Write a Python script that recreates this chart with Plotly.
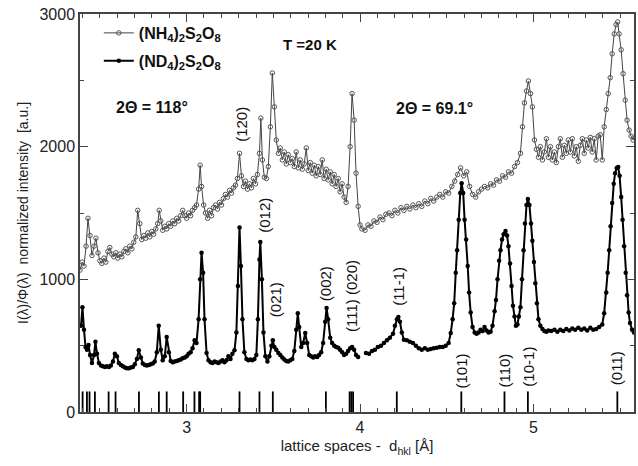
import plotly.graph_objects as go

# ---------------- data ----------------
# (NH4)2S2O8 : lattice spacing d [A] and intensity
nh4_d = [2.385, 2.397, 2.408, 2.420, 2.431, 2.443, 2.454, 2.466, 2.477, 2.489, 2.500, 2.511,
         2.523, 2.534, 2.546, 2.557, 2.569, 2.580, 2.592, 2.603, 2.615, 2.626, 2.638, 2.649,
         2.661, 2.672, 2.684, 2.695, 2.707, 2.718, 2.730, 2.741, 2.753, 2.764, 2.776, 2.787,
         2.799, 2.810, 2.822, 2.833, 2.842, 2.851, 2.862, 2.874, 2.885, 2.897, 2.908, 2.920,
         2.931, 2.943, 2.954, 2.966, 2.977, 2.989, 3.000, 3.011, 3.023, 3.034, 3.046, 3.057,
         3.069, 3.078, 3.086, 3.098, 3.109, 3.121, 3.132, 3.144, 3.155, 3.167, 3.178, 3.190,
         3.201, 3.213, 3.224, 3.236, 3.247, 3.259, 3.270, 3.282, 3.293, 3.305, 3.316, 3.328,
         3.339, 3.351, 3.362, 3.374, 3.385, 3.397, 3.408, 3.420, 3.428, 3.437, 3.448, 3.460,
         3.471, 3.483, 3.494, 3.506, 3.517, 3.529, 3.540, 3.552, 3.563, 3.575, 3.586, 3.598,
         3.609, 3.621, 3.632, 3.644, 3.655, 3.667, 3.678, 3.690, 3.701, 3.713, 3.724, 3.736,
         3.747, 3.759, 3.770, 3.782, 3.793, 3.805, 3.816, 3.828, 3.839, 3.851, 3.862, 3.874,
         3.885, 3.897, 3.908, 3.920, 3.931, 3.943, 3.954, 3.966, 3.977, 3.989, 4.000, 4.011,
         4.029, 4.046, 4.063, 4.080, 4.098, 4.115, 4.132, 4.149, 4.167, 4.184, 4.201, 4.218,
         4.236, 4.253, 4.270, 4.287, 4.305, 4.322, 4.339, 4.356, 4.374, 4.391, 4.408, 4.425,
         4.443, 4.460, 4.477, 4.494, 4.511, 4.529, 4.546, 4.563, 4.580, 4.598, 4.615, 4.632,
         4.649, 4.667, 4.684, 4.701, 4.718, 4.736, 4.753, 4.770, 4.787, 4.805, 4.822, 4.839,
         4.856, 4.874, 4.891, 4.908, 4.925, 4.937, 4.948, 4.960, 4.971, 4.983, 4.994, 5.006,
         5.017, 5.029, 5.040, 5.052, 5.063, 5.075, 5.086, 5.098, 5.109, 5.121, 5.132, 5.144,
         5.155, 5.167, 5.178, 5.190, 5.201, 5.213, 5.224, 5.236, 5.247, 5.259, 5.270, 5.282,
         5.293, 5.305, 5.316, 5.328, 5.339, 5.351, 5.362, 5.374, 5.385, 5.397, 5.408, 5.420,
         5.431, 5.443, 5.454, 5.466, 5.477, 5.486, 5.494, 5.506, 5.517, 5.529, 5.540, 5.552,
         5.563, 5.575, 5.586]
nh4_I = [1070, 1130, 1100, 1250, 1460, 1330, 1180, 1250, 1310, 1200, 1140, 1120,
         1160, 1130, 1210, 1240, 1190, 1170, 1200, 1160, 1190, 1170, 1210, 1230,
         1200, 1250, 1230, 1280, 1320, 1520, 1420, 1300, 1330, 1310, 1350, 1320,
         1360, 1340, 1380, 1420, 1520, 1440, 1370, 1400, 1380, 1420, 1400, 1440,
         1420, 1460, 1440, 1480, 1520, 1480, 1460, 1500, 1480, 1520, 1540, 1560,
         1680, 1860, 1700, 1560, 1500, 1460, 1520, 1480, 1540, 1560, 1530, 1580,
         1560, 1610, 1640, 1620, 1670, 1650, 1690, 1710, 1760, 1950, 1780, 1700,
         1740, 1680, 1720, 1690, 1760, 1720, 1790, 1950, 2215, 1900, 1770, 1760,
         1850, 2150, 2555, 2300, 2050, 1950, 1990, 1900, 1960, 1870, 1940, 1880,
         1910, 1850, 1960, 1840, 1900, 1830, 1870, 1990, 1820, 1880, 1800, 1860,
         1780, 1850, 1790, 1900, 1760, 1830, 1750, 1810, 1720, 1790, 1700, 1760,
         1660, 1720, 1620, 1580, 1700, 2000, 2400, 2200, 1800, 1550, 1410, 1380,
         1370, 1410, 1400, 1440, 1430, 1470, 1450, 1490, 1500, 1480, 1520, 1500,
         1540, 1520, 1550, 1530, 1560, 1540, 1570, 1550, 1590, 1570, 1610, 1590,
         1620, 1640, 1620, 1660, 1650, 1700, 1740, 1790, 1840, 1780, 1810, 1700,
         1640, 1620, 1660, 1680, 1700, 1690, 1720, 1710, 1750, 1740, 1780, 1770,
         1810, 1800, 1850, 1880, 1950, 2150, 2330, 2420, 2495, 2400, 2300, 2050,
         1980, 1920, 2000, 1900, 1960, 2060, 1920, 2000, 1900, 1960, 1880, 2000,
         2060, 1920, 2010, 1950, 2050, 1960, 2060, 1930, 2000, 1890, 2010, 2060,
         1950, 2050, 1990, 2070, 1960, 2060, 1900, 2080, 2090, 1900, 2150, 2280,
         2400, 2520, 2700, 2850, 2920, 2940, 2850, 2730, 2550, 2350, 2200, 2125,
         2080, 2050, 2070]

# (ND4)2S2O8 : two measurement ranges (2Theta = 118 deg and 69.1 deg)
nd4_d_low = [2.391, 2.399, 2.408, 2.417, 2.425, 2.434, 2.443, 2.454, 2.466, 2.474, 2.483, 2.494,
             2.506, 2.517, 2.529, 2.540, 2.552, 2.563, 2.575, 2.586, 2.598, 2.609, 2.621, 2.632,
             2.644, 2.655, 2.667, 2.678, 2.690, 2.701, 2.713, 2.724, 2.736, 2.747, 2.759, 2.770,
             2.782, 2.793, 2.805, 2.816, 2.828, 2.839, 2.851, 2.862, 2.874, 2.885, 2.897, 2.908,
             2.920, 2.931, 2.943, 2.954, 2.966, 2.977, 2.989, 3.000, 3.011, 3.023, 3.034, 3.046,
             3.057, 3.069, 3.078, 3.086, 3.095, 3.103, 3.115, 3.126, 3.138, 3.149, 3.161, 3.172,
             3.184, 3.195, 3.207, 3.218, 3.230, 3.241, 3.253, 3.264, 3.276, 3.287, 3.296, 3.305,
             3.313, 3.322, 3.333, 3.345, 3.356, 3.368, 3.379, 3.391, 3.402, 3.411, 3.420, 3.425,
             3.434, 3.443, 3.454, 3.466, 3.477, 3.489, 3.497, 3.506, 3.517, 3.529, 3.540, 3.552,
             3.563, 3.575, 3.586, 3.598, 3.609, 3.621, 3.632, 3.641, 3.649, 3.661, 3.672, 3.684,
             3.695, 3.707, 3.718, 3.730, 3.741, 3.753, 3.764, 3.776, 3.787, 3.799, 3.807, 3.816,
             3.828, 3.839, 3.851, 3.862, 3.874, 3.885, 3.897, 3.908, 3.920, 3.931, 3.943, 3.954,
             3.966, 3.977, 3.989]
nd4_I_low = [650, 790, 620, 490, 470, 505, 430, 370, 430, 530, 440, 370,
             350, 345, 340, 345, 340, 350, 380, 440, 420, 370, 355, 345,
             335, 330, 330, 335, 340, 360, 400, 465, 410, 365, 355, 350,
             355, 360, 365, 380, 450, 650, 470, 390, 420, 565, 450, 385,
             375, 380, 385, 390, 395, 405, 410, 420, 440, 450, 480, 540,
             520, 700, 1000, 1200, 1050, 700, 445, 390, 375, 370, 380, 375,
             370, 380, 390, 375, 390, 420, 400, 440, 465, 600, 950, 1390,
             1100, 700, 450, 400, 390, 395, 390, 400, 430, 700, 1150, 1281,
             1000, 600, 420, 380, 420, 500, 540, 490, 470, 445, 430, 410,
             395, 385, 380, 390, 400, 460, 620, 745, 640, 490, 520, 595,
             520, 430, 420, 410, 420, 415, 430, 450, 520, 680, 784, 700,
             560, 520, 500, 490, 485, 470, 450, 430, 440, 460, 480, 490,
             470, 430, 415]
nd4_d_high = [4.034, 4.052, 4.069, 4.086, 4.103, 4.121, 4.138, 4.155, 4.172, 4.190, 4.201, 4.213,
              4.221, 4.230, 4.241, 4.253, 4.270, 4.287, 4.305, 4.322, 4.339, 4.356, 4.374, 4.391,
              4.408, 4.425, 4.443, 4.460, 4.477, 4.494, 4.511, 4.523, 4.534, 4.543, 4.552, 4.560,
              4.569, 4.578, 4.586, 4.595, 4.603, 4.612, 4.621, 4.629, 4.638, 4.649, 4.661, 4.672,
              4.684, 4.695, 4.707, 4.718, 4.730, 4.741, 4.753, 4.764, 4.776, 4.784, 4.793, 4.802,
              4.810, 4.819, 4.828, 4.839, 4.848, 4.856, 4.865, 4.874, 4.882, 4.891, 4.899, 4.908,
              4.916, 4.925, 4.934, 4.943, 4.951, 4.960, 4.968, 4.977, 4.986, 4.994, 5.003, 5.011,
              5.020, 5.029, 5.040, 5.052, 5.063, 5.075, 5.086, 5.103, 5.121, 5.138, 5.155, 5.172,
              5.190, 5.207, 5.224, 5.241, 5.259, 5.276, 5.293, 5.310, 5.328, 5.345, 5.362, 5.379,
              5.397, 5.408, 5.420, 5.428, 5.437, 5.445, 5.454, 5.463, 5.471, 5.480, 5.489, 5.497,
              5.506, 5.514, 5.523, 5.532, 5.540, 5.549, 5.557, 5.569, 5.580]
nd4_I_high = [445, 440, 460, 470, 490, 500, 520, 540, 560, 590, 650, 700,
              716, 680, 600, 545, 540, 530, 520, 500, 480, 470, 480, 470,
              475, 480, 485, 490, 490, 500, 520, 595, 700, 820, 1050, 1220,
              1450, 1650, 1725, 1650, 1450, 1300, 1100, 900, 750, 640, 600, 590,
              600, 620, 610, 640, 615, 600, 605, 650, 760, 845, 1000, 1140,
              1220, 1300, 1340, 1364, 1330, 1250, 1120, 950, 800, 720, 650, 660,
              720, 790, 1000, 1220, 1420, 1560, 1605, 1560, 1420, 1290, 1130, 970,
              820, 700, 650, 625, 610, 605, 615, 610, 620, 605, 620, 610,
              625, 615, 630, 620, 635, 620, 630, 615, 635, 620, 625, 640,
              660, 745, 900, 1050, 1220, 1400, 1575, 1720, 1800, 1840, 1846, 1780,
              1620, 1450, 1250, 1050, 880, 750, 670, 620, 600]

# calculated reflection positions (tick bars at the bottom)
refl_d = [2.400, 2.425, 2.440, 2.471, 2.550, 2.590, 2.725, 2.840, 2.885, 2.980, 3.045,
          3.072, 3.078, 3.305, 3.420, 3.497, 3.803, 3.940, 3.950, 3.960, 4.212, 4.584,
          4.833, 4.968, 5.484]
refl_h = 155

# reflection labels
hkl_labels = ["(120)", "(012)", "(021)", "(002)", "(111) (020)", "(11-1)",
              "(101)", "(110)", "(10-1)", "(011)"]
hkl_d = [3.312, 3.447, 3.517, 3.805, 3.954, 4.224, 4.586, 4.833, 4.971, 5.483]
hkl_y = [2170, 1480, 845, 965, 875, 950, 310, 316, 345, 332]

x_range = [2.385, 5.58]
y_range = [0, 3000]

# ---------------- figure ----------------
FONT = "Liberation Sans, Arial, sans-serif"
fig = go.Figure()

fig.add_trace(go.Scatter(
    x=nh4_d, y=nh4_I, mode="lines+markers",
    name="<b>(NH<sub>4</sub>)<sub>2</sub>S<sub>2</sub>O<sub>8</sub></b>",
    legendgroup="a",
    line=dict(color="#444444", width=1),
    marker=dict(symbol="circle-open", size=4.5, color="#555555", line=dict(width=1)),
))

nd4_x = nd4_d_low + [None] + nd4_d_high
nd4_y = nd4_I_low + [None] + nd4_I_high
fig.add_trace(go.Scatter(
    x=nd4_x, y=nd4_y, mode="lines+markers",
    name="<b>(ND<sub>4</sub>)<sub>2</sub>S<sub>2</sub>O<sub>8</sub></b>",
    legendgroup="b",
    line=dict(color="#000000", width=2),
    marker=dict(symbol="circle", size=4.5, color="#000000"),
))

bx, by = [], []
for d in refl_d:
    bx += [d, d, None]
    by += [0, refl_h, None]
fig.add_trace(go.Scatter(x=bx, y=by, mode="lines", showlegend=False,
                         line=dict(color="#000000", width=1.8), hoverinfo="skip"))

for lab, xd, yv in zip(hkl_labels, hkl_d, hkl_y):
    fig.add_annotation(x=xd, y=yv, xref="x", yref="y", text=lab, showarrow=False,
                       textangle=-90, font=dict(family=FONT, size=15, color="#111111"))

fig.add_annotation(x=3.71, y=2773, xref="x", yref="y", text="<b>T =20 K</b>",
                   showarrow=False, font=dict(family=FONT, size=15, color="#111111"))
fig.add_annotation(x=2.80, y=2295, xref="x", yref="y", text="<b>2Θ = 118°</b>",
                   showarrow=False, font=dict(family=FONT, size=16, color="#111111"))
fig.add_annotation(x=4.431, y=2285, xref="x", yref="y", text="<b>2Θ = 69.1°</b>",
                   showarrow=False, font=dict(family=FONT, size=16, color="#111111"))

axis_common = dict(showline=True, linecolor="#444444", linewidth=1.5, mirror="allticks",
                   ticks="inside", tickcolor="#444444", ticklen=8, tickwidth=1.2,
                   showgrid=False, zeroline=False,
                   tickfont=dict(family=FONT, size=16, color="#222222"))

fig.update_xaxes(range=x_range, tickvals=[3, 4, 5], ticktext=["3", "4", "5"],
                 minor=dict(ticks="inside", dtick=0.1, tick0=0, ticklen=4,
                            tickcolor="#444444", tickwidth=1),
                 title=dict(text="lattice spaces -  d<sub>hkl</sub> [Å]",
                            font=dict(family=FONT, size=15, color="#222222"), standoff=6),
                 **axis_common)
fig.update_yaxes(range=y_range, tickvals=[0, 1000, 2000, 3000],
                 minor=dict(ticks="inside", dtick=500, tick0=0, ticklen=4,
                            tickcolor="#444444", tickwidth=1),
                 title=dict(text="I(λ)/Φ(λ)  normalized intensity  [a.u.]",
                            font=dict(family=FONT, size=14, color="#222222"), standoff=8),
                 **axis_common)

fig.update_layout(
    width=638, height=466,
    margin=dict(l=80, r=2, t=14, b=54),
    plot_bgcolor="white", paper_bgcolor="white",
    showlegend=True,
    legend=dict(x=0.034, y=0.995, xanchor="left", yanchor="top",
                bgcolor="rgba(0,0,0,0)", tracegroupgap=4,
                font=dict(family=FONT, size=16, color="#111111")),
)

fig.write_html("out.html")
